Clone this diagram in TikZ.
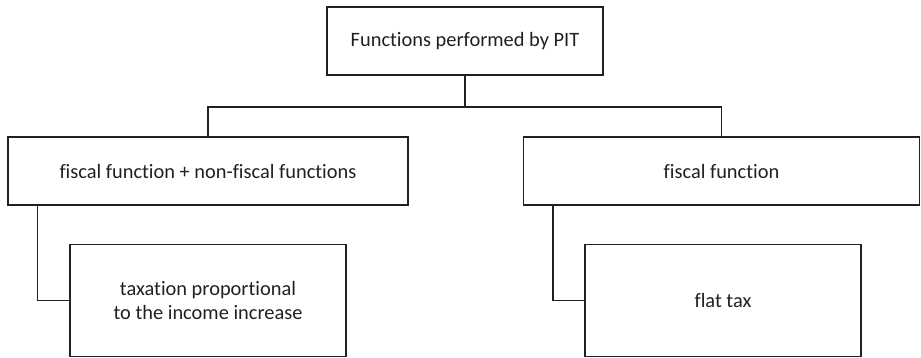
\documentclass[tikz,border=0pt]{standalone}
\usepackage{fontspec}
\setmainfont[Ligatures=NoCommon]{Carlito}
\definecolor{ink}{HTML}{231F20}
\begin{document}
\begin{tikzpicture}[x=1pt,y=-1pt,
  box/.style={draw=ink, line width=1.1pt, rectangle, inner sep=0pt,
    text=ink, font=\fontsize{20.4}{23.5}\selectfont, align=center},
  link/.style={draw=ink, line width=1.1pt}]
  \useasboundingbox (0,0) rectangle (921,358);
  \node[box, minimum width=276pt, minimum height=68pt] (top) at (465,41) {Functions performed by PIT};
  \node[box, minimum width=400pt, minimum height=68pt] (left) at (208,171) {fiscal function + non-fiscal functions};
  \node[box, minimum width=396pt, minimum height=68pt] (right) at (721.5,171) {fiscal function};
  \node[box, minimum width=276pt, minimum height=112pt] (lchild) at (208,300.5) {taxation proportional\\to the income increase};
  \node[box, minimum width=276pt, minimum height=112pt] (rchild) at (723,300.5) {flat tax};
  \coordinate (split) at (465,107);
  \draw[link] (top.south) -- (split);
  \draw[link] (split) -| (left.north);
  \draw[link] (split) -| (right.north);
  \draw[link] ([xshift=30pt]left.south west) |- (lchild.west);
  \draw[link] ([xshift=30pt]right.south west) |- (rchild.west);
\end{tikzpicture}
\end{document}
